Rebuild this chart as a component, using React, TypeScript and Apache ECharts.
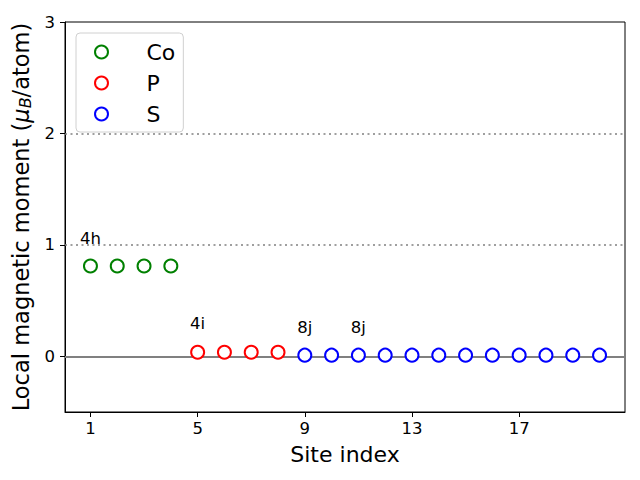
import React, { useEffect, useRef } from "react";
import * as echarts from "echarts";

const coSites = [1, 2, 3, 4];
const coValues = [0.81, 0.81, 0.81, 0.81];
const pSites = [5, 6, 7, 8];
const pValues = [0.036, 0.036, 0.036, 0.036];
const sSites = [9, 10, 11, 12, 13, 14, 15, 16, 17, 18, 19, 20];
const sValues = [0.01, 0.01, 0.01, 0.01, 0.01, 0.01, 0.01, 0.01, 0.01, 0.01, 0.01, 0.01];
const annoText = ["4h", "4i", "8j", "8j"];
const annoX = [1, 5, 9, 11];
const annoY = [1.06, 0.29, 0.26, 0.26];
const xTicks = [1, 5, 9, 13, 17];
const yTicks = [0, 1, 2, 3];
const refDotted = [1, 2];

const FONT = "DejaVu Sans";

export default function App() {
  const ref = useRef<HTMLDivElement>(null);
  useEffect(() => {
    const chart = echarts.init(ref.current!, null, { renderer: "svg" });
    const mk = (name: string, xs: number[], ys: number[], color: string) => ({
      name,
      type: "scatter",
      symbol: "emptyCircle",
      symbolSize: 13,
      itemStyle: { color, borderColor: color, borderWidth: 1.3, opacity: 1 },
      data: xs.map((x, i) => [x, ys[i]]),
      z: 5,
    });
    chart.setOption({
      animation: false,
      backgroundColor: "#ffffff",
      textStyle: { fontFamily: FONT },
      grid: {
        left: 65,
        right: 15,
        top: 22,
        bottom: 68,
        show: true,
        borderColor: "#000",
        borderWidth: 1,
        backgroundColor: "transparent",
      },
      legend: {
        data: ["Co", "P", "S"],
        orient: "vertical",
        left: 76,
        top: 33,
        itemWidth: 26,
        itemHeight: 13,
        itemGap: 5,
        padding: [6, 8, 5, 18],
        borderColor: "#d0d0d0",
        borderWidth: 1,
        borderRadius: 4,
        backgroundColor: "rgba(255,255,255,0.8)",
        textStyle: {
          fontFamily: FONT,
          fontSize: 22,
          color: "#000",
          lineHeight: 26,
          padding: [0, 0, 0, 27],
        },
      },
      xAxis: {
        type: "value",
        min: 0.05,
        max: 20.95,
        name: "Site index",
        nameLocation: "middle",
        nameGap: 31,
        nameTextStyle: { fontFamily: FONT, fontSize: 22, color: "#000" },
        axisLine: { show: true, onZero: false, lineStyle: { color: "#000", width: 1 } },
        axisTick: { show: true, length: 5, lineStyle: { color: "#000" }, customValues: xTicks },
        axisLabel: {
          fontFamily: FONT,
          fontSize: 16.5,
          color: "#000",
          margin: 8,
          customValues: xTicks,
        },
        splitLine: { show: false },
      },
      yAxis: {
        type: "value",
        min: -0.5,
        max: 3,
        name: "Local magnetic moment ({mu|μ}{sub|B}/atom)",
        nameLocation: "middle",
        nameGap: 27,
        nameRotate: 90,
        nameTextStyle: {
          fontFamily: FONT,
          fontSize: 22.5,
          color: "#000",
          rich: {
            mu: { fontFamily: FONT, fontSize: 22.5, fontStyle: "italic", color: "#000" },
            sub: {
              fontFamily: FONT,
              fontSize: 16,
              fontStyle: "italic",
              color: "#000",
              verticalAlign: "bottom",
              padding: [10, 0, 0, 0],
            },
          },
        },
        axisLine: { show: true, onZero: false, lineStyle: { color: "#000", width: 1 } },
        axisTick: { show: true, length: 5, lineStyle: { color: "#000" }, customValues: yTicks },
        axisLabel: {
          fontFamily: FONT,
          fontSize: 16.5,
          color: "#000",
          margin: 10,
          customValues: yTicks,
        },
        splitLine: { show: false },
      },
      series: [
        {
          ...mk("Co", coSites, coValues, "#008000"),
          markLine: {
            silent: true,
            symbol: "none",
            label: { show: false },
            data: [
              ...refDotted.map((v) => ({
                yAxis: v,
                lineStyle: { color: "#808080", type: [2, 3.5], width: 1.5, opacity: 1 },
              })),
              { yAxis: 0, lineStyle: { color: "#808080", type: "solid", width: 2, opacity: 1 } },
            ],
          },
        },
        mk("P", pSites, pValues, "#ff0000"),
        mk("S", sSites, sValues, "#0000ff"),
        {
          name: "annotations",
          type: "scatter",
          symbolSize: 0,
          silent: true,
          data: annoX.map((x, i) => [x, annoY[i], annoText[i]]),
          itemStyle: { opacity: 1 },
          label: {
            show: true,
            position: "inside",
            formatter: (p: any) => p.data[2],
            fontFamily: FONT,
            fontSize: 16.5,
            color: "#000",
            textBorderWidth: 0,
          },
        },
      ],
    });
    return () => chart.dispose();
  }, []);
  return <div ref={ref} style={{ width: 640, height: 480, margin: -8 }} />;
}
